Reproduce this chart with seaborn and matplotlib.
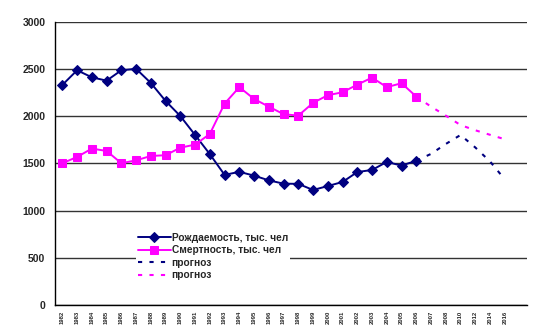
import matplotlib
matplotlib.use("Agg")
import matplotlib.pyplot as plt
import seaborn as sns
import pandas as pd
import numpy as np
from matplotlib.ticker import FixedLocator

# ---- data ----
years = ['1982', '1983', '1984', '1985', '1986', '1987', '1988', '1989', '1990',
         '1991', '1992', '1993', '1994', '1995', '1996', '1997', '1998', '1999',
         '2000', '2001', '2002', '2003', '2004', '2005', '2006', '2007', '2008',
         '2010', '2012', '2014', '2016']
hist_years = years[:25]          # 1982..2006
fc_years = ['2006', '2007', '2008', '2010', '2012', '2014', '2016']

births = [2330, 2485, 2410, 2375, 2485, 2500, 2350, 2160, 2000, 1800, 1597, 1378,
          1410, 1370, 1320, 1285, 1283, 1218, 1260, 1303, 1408, 1430, 1515, 1476, 1528]
deaths = [1501, 1568, 1656, 1631, 1501, 1532, 1578, 1586, 1666, 1698, 1811, 2132,
          2306, 2181, 2100, 2020, 2005, 2140, 2221, 2252, 2333, 2407, 2306, 2348, 2206]
births_fc = [1528, 1600, 1705, 1800, 1668, 1520, 1330]
deaths_fc = [2206, 2100, 2005, 1905, 1850, 1802, 1755]

labels = ['Рождаемость, тыс. чел', 'Смертность, тыс. чел', 'прогноз', 'прогноз']
yticks = [0, 500, 1000, 1500, 2000, 2500, 3000]

navy = '#000080'
magenta = '#FF00FF'

# ---- style ----
sns.set_style('white')
plt.rcParams['font.family'] = ['Liberation Sans', 'DejaVu Sans']
plt.rcParams['font.weight'] = 'bold'

pos = {y: i for i, y in enumerate(years)}
df_hist = pd.DataFrame({'x': [pos[y] for y in hist_years], 'births': births, 'deaths': deaths})
df_fc = pd.DataFrame({'x': [pos[y] for y in fc_years], 'births': births_fc, 'deaths': deaths_fc})

fig = plt.figure(figsize=(5.5, 3.32), dpi=100)
ax = fig.add_axes([0.1, 0.081, 0.858, 0.854])

sns.lineplot(data=df_hist, x='x', y='births', ax=ax, color=navy, marker='D',
             markersize=4.6, markeredgecolor=navy, linewidth=1.4, label=labels[0])
sns.lineplot(data=df_hist, x='x', y='deaths', ax=ax, color=magenta, marker='s',
             markersize=5.2, markeredgecolor=magenta, linewidth=1.4, label=labels[1])
sns.lineplot(data=df_fc, x='x', y='births', ax=ax, color=navy, linewidth=1.5,
             linestyle=(0, (2, 3.5)), label=labels[2])
sns.lineplot(data=df_fc, x='x', y='deaths', ax=ax, color=magenta, linewidth=1.5,
             linestyle=(0, (2, 3.5)), label=labels[3])

ax.set_ylim(0, 3000)
ax.set_xlim(-0.5, len(years) + 0.5)
ax.set_yticks(yticks)
ax.set_yticklabels([str(v) for v in yticks], fontsize=7.5, fontweight='bold')
ax.set_xticks(range(len(years)))
ax.set_xticklabels(years, rotation=90, fontsize=4.2, fontweight='bold')
ax.xaxis.set_minor_locator(FixedLocator(np.arange(-0.5, len(years) + 1, 1.0)))
ax.tick_params(axis='x', which='major', length=0, pad=4)
ax.tick_params(axis='x', which='minor', length=3, width=0.8, color='black', direction='out')
ax.tick_params(axis='y', length=4, width=0.8, color='black', direction='out', pad=3)
ax.set_xlabel('')
ax.set_ylabel('')

ax.grid(axis='y', color='#333333', linewidth=1.0)
ax.grid(axis='x', visible=False)
ax.set_axisbelow(True)
for s in ['top', 'right']:
    ax.spines[s].set_visible(False)
for s in ['left', 'bottom']:
    ax.spines[s].set_color('black')
    ax.spines[s].set_linewidth(1.0)

leg = ax.legend(loc='upper left', bbox_to_anchor=(0.172, 0.262), fontsize=7.3,
                frameon=True, framealpha=1, facecolor='white', edgecolor='none',
                handlelength=3.2, handletextpad=0.1, labelspacing=0.25,
                borderpad=0.2, borderaxespad=0, fancybox=False)
for t in leg.get_texts():
    t.set_fontweight('bold')

fig.savefig('out.png', dpi=100)
